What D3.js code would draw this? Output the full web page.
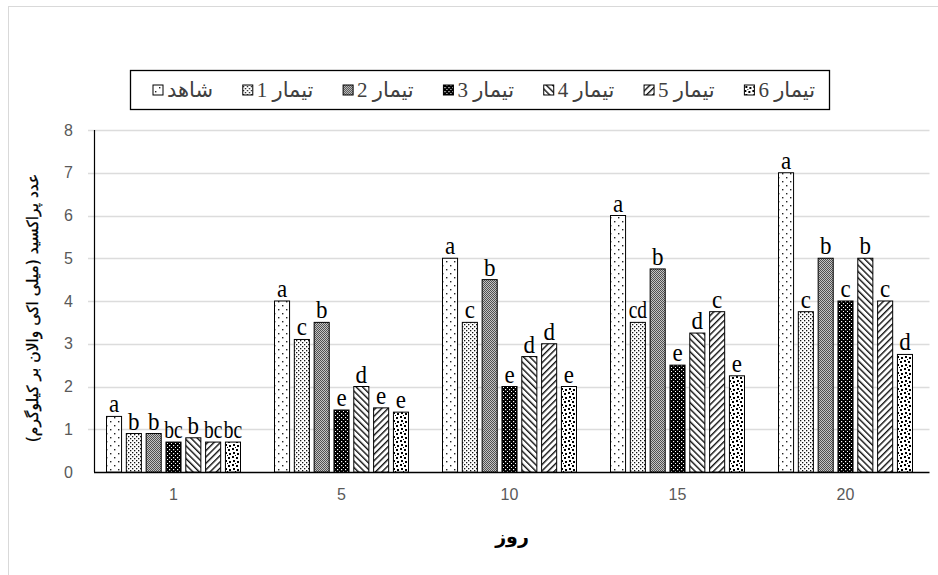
<!DOCTYPE html>
<html>
<head>
<meta charset="utf-8">
<script src="https://cdn.jsdelivr.net/npm/d3@7"></script>
<style>
  html, body { margin: 0; padding: 0; background: #fff; }
  svg { display: block; }
</style>
</head>
<body>
<svg id="chart" width="938" height="575"></svg>
<script>
// Peroxide value over storage days, control and six treatments
const days = ["1", "5", "10", "15", "20"];
const seriesNames = ["شاهد", "تیمار 1", "تیمار 2", "تیمار 3", "تیمار 4", "تیمار 5", "تیمار 6"];
const yTicks = [0, 1, 2, 3, 4, 5, 6, 7, 8];

const control = [1.3, 4.0, 5.0, 6.0, 7.0];
const t1 = [0.9, 3.1, 3.5, 3.5, 3.75];
const t2 = [0.9, 3.5, 4.5, 4.75, 5.0];
const t3 = [0.7, 1.45, 2.0, 2.5, 4.0];
const t4 = [0.8, 2.0, 2.7, 3.25, 5.0];
const t5 = [0.7, 1.5, 3.0, 3.75, 4.0];
const t6 = [0.7, 1.4, 2.0, 2.25, 2.75];

// Duncan grouping letters shown above the bars
const controlLetters = ["a", "a", "a", "a", "a"];
const t1Letters = ["b", "c", "c", "cd", "c"];
const t2Letters = ["b", "b", "b", "b", "b"];
const t3Letters = ["bc", "e", "e", "e", "c"];
const t4Letters = ["b", "d", "d", "d", "b"];
const t5Letters = ["bc", "e", "d", "c", "c"];
const t6Letters = ["bc", "e", "e", "e", "d"];

const yTitle = "عدد پراکسید (میلی اکی والان بر کیلوگرم)";
const xTitle = "روز";

const values = [control, t1, t2, t3, t4, t5, t6];
const letters = [controlLetters, t1Letters, t2Letters, t3Letters, t4Letters, t5Letters, t6Letters];

const svg = d3.select("#chart");

// ---- fill patterns, one per series ----
const defs = svg.append("defs");

// control: sparse dots on white
let p = defs.append("pattern").attr("id", "pat0").attr("patternUnits", "userSpaceOnUse")
  .attr("width", 8).attr("height", 8);
p.append("rect").attr("width", 8).attr("height", 8).attr("fill", "#fff");
p.append("rect").attr("x", 2).attr("y", 1).attr("width", 1.4).attr("height", 1.4).attr("fill", "#222");
p.append("rect").attr("x", 6).attr("y", 5).attr("width", 1.4).attr("height", 1.4).attr("fill", "#222");

// treatment 1: fine light dots
p = defs.append("pattern").attr("id", "pat1").attr("patternUnits", "userSpaceOnUse")
  .attr("width", 4).attr("height", 4);
p.append("rect").attr("width", 4).attr("height", 4).attr("fill", "#fff");
p.append("rect").attr("x", 0).attr("y", 0).attr("width", 1.3).attr("height", 1.3).attr("fill", "#111");
p.append("rect").attr("x", 2).attr("y", 2).attr("width", 1.3).attr("height", 1.3).attr("fill", "#111");

// treatment 2: dense grey stipple
p = defs.append("pattern").attr("id", "pat2").attr("patternUnits", "userSpaceOnUse")
  .attr("width", 2).attr("height", 2);
p.append("rect").attr("width", 2).attr("height", 2).attr("fill", "#c4c4c4");
p.append("rect").attr("x", 0).attr("y", 0).attr("width", 1).attr("height", 1).attr("fill", "#505050");
p.append("rect").attr("x", 1).attr("y", 1).attr("width", 1).attr("height", 1).attr("fill", "#505050");

// treatment 3: black with small white dots
p = defs.append("pattern").attr("id", "pat3").attr("patternUnits", "userSpaceOnUse")
  .attr("width", 4).attr("height", 4);
p.append("rect").attr("width", 4).attr("height", 4).attr("fill", "#000");
p.append("rect").attr("x", 1).attr("y", 1).attr("width", 1.2).attr("height", 1.2).attr("fill", "#fff");
p.append("rect").attr("x", 3).attr("y", 3).attr("width", 1.2).attr("height", 1.2).attr("fill", "#fff");

// treatments 4 and 5: diagonal hatching in opposite directions
[["pat4", -45], ["pat5", 45]].forEach(([id, ang]) => {
  const h = defs.append("pattern").attr("id", id).attr("patternUnits", "userSpaceOnUse")
    .attr("width", 4.5).attr("height", 4.5).attr("patternTransform", `rotate(${ang})`);
  h.append("rect").attr("width", 4.5).attr("height", 4.5).attr("fill", "#fff");
  h.append("rect").attr("x", 0).attr("y", 0).attr("width", 1.4).attr("height", 4.5).attr("fill", "#111");
});

// treatment 6: large confetti blobs
p = defs.append("pattern").attr("id", "pat6").attr("patternUnits", "userSpaceOnUse")
  .attr("width", 8).attr("height", 8);
p.append("rect").attr("width", 8).attr("height", 8).attr("fill", "#fff");
[[0, 0, 2, 2], [4, 1, 2, 2], [1, 4, 2, 2], [5, 5, 2, 2], [3, 7, 1, 1]].forEach(([x, y, w, hh]) => {
  p.append("rect").attr("x", x).attr("y", y).attr("width", w).attr("height", hh).attr("fill", "#000");
});

// ---- outer frame ----
svg.append("rect").attr("x", 8.5).attr("y", 6.5).attr("width", 960).attr("height", 620)
  .attr("fill", "none").attr("stroke", "#d9d9d9").attr("stroke-width", 1);

// ---- scales ----
const x0 = d3.scaleBand().domain(days).range([89.5, 929.5]).paddingInner(0).paddingOuter(0);
const x1 = d3.scaleBand().domain(d3.range(seriesNames.length)).range([17, 151]).paddingInner(0.24).paddingOuter(0);
const y = d3.scaleLinear().domain([0, 8]).range([472, 130]);

// ---- gridlines ----
svg.append("g").selectAll("line").data(yTicks.filter(d => d > 0)).join("line")
  .attr("x1", 88).attr("x2", 929.5)
  .attr("y1", d => Math.round(y(d)) + 0.5).attr("y2", d => Math.round(y(d)) + 0.5)
  .attr("stroke", "#dcdcdc").attr("stroke-width", 1.5);

// ---- y axis ----
const yAxis = svg.append("g").attr("transform", "translate(94,0)")
  .call(d3.axisLeft(y).tickValues(yTicks).tickSize(0).tickPadding(21).tickFormat(d3.format("d")));
yAxis.select(".domain").remove();
yAxis.selectAll("text").attr("fill", "#595959").attr("font-family", "Liberation Sans, Arial, sans-serif")
  .attr("font-size", 16);
svg.append("line").attr("x1", 94.5).attr("x2", 94.5).attr("y1", y(8)).attr("y2", y(0))
  .attr("stroke", "#000").attr("stroke-width", 1.2);

// ---- x axis ----
const xAxis = svg.append("g").attr("transform", `translate(0,${y(0)})`)
  .call(d3.axisBottom(x0).tickSize(0).tickPadding(17));
xAxis.select(".domain").remove();
xAxis.selectAll("text").attr("fill", "#595959").attr("font-family", "Liberation Sans, Arial, sans-serif")
  .attr("font-size", 16);
svg.append("line").attr("x1", 94).attr("x2", 929.5).attr("y1", y(0) + 0.5).attr("y2", y(0) + 0.5)
  .attr("stroke", "#000").attr("stroke-width", 1.3);

// ---- bars and letters ----
const rows = [];
days.forEach((day, di) => {
  values.forEach((vals, si) => {
    rows.push({ day, si, v: vals[di], lab: letters[si][di] });
  });
});

svg.append("g").selectAll("rect").data(rows).join("rect")
  .attr("x", d => x0(d.day) + x1(d.si))
  .attr("y", d => y(d.v))
  .attr("width", x1.bandwidth())
  .attr("height", d => y(0) - y(d.v))
  .attr("fill", d => `url(#pat${d.si})`)
  .attr("stroke", "#000").attr("stroke-width", 1);

svg.append("g").selectAll("text").data(rows).join("text")
  .attr("transform", d => `translate(${x0(d.day) + x1(d.si) + x1.bandwidth() / 2},${y(d.v) - 4}) scale(${d.lab.length > 1 ? 0.78 : 0.92},1)`)
  .attr("text-anchor", "middle")
  .attr("font-family", "Liberation Serif, Times New Roman, serif")
  .attr("font-size", 25)
  .attr("fill", "#000")
  .text(d => d.lab);

// ---- axis titles ----
svg.append("text")
  .attr("transform", "translate(38,308) rotate(-90)")
  .attr("text-anchor", "middle")
  .attr("font-family", "DejaVu Sans, sans-serif")
  .attr("font-size", 15.5)
  .attr("fill", "#000")
  .attr("stroke", "#000").attr("stroke-width", 0.3)
  .text(yTitle);

svg.append("text")
  .attr("x", 512).attr("y", 543)
  .attr("text-anchor", "middle")
  .attr("font-family", "DejaVu Sans, sans-serif")
  .attr("font-size", 19)
  .attr("font-weight", "bold")
  .attr("fill", "#000")
  .text(xTitle);

// ---- legend ----
const legBox = { x: 130.5, y: 70.5, w: 699, h: 39 };
svg.append("rect").attr("x", legBox.x).attr("y", legBox.y).attr("width", legBox.w).attr("height", legBox.h)
  .attr("fill", "#fff").attr("stroke", "#000").attr("stroke-width", 1.3);

const leg = svg.append("g");
const items = leg.selectAll("g").data(seriesNames).join("g");
items.append("rect")
  .attr("width", 10).attr("height", 10).attr("y", -5)
  .attr("fill", (d, i) => `url(#pat${i})`)
  .attr("stroke", "#000").attr("stroke-width", 1);
items.append("text")
  .attr("x", 14).attr("y", 7)
  .attr("font-family", "Liberation Serif, DejaVu Sans, serif")
  .attr("font-size", 21)
  .attr("fill", "#404040")
  .text(d => d);

// spread items evenly between the first swatch and the right padding
const widths = [];
items.each(function () { widths.push(14 + d3.select(this).select("text").node().getComputedTextLength()); });
const startX = 153, endX = 815;
const gap = (endX - startX - d3.sum(widths)) / (widths.length - 1);
let cx = startX;
items.each(function (d, i) {
  d3.select(this).attr("transform", `translate(${cx},90)`);
  cx += widths[i] + gap;
});
</script>
</body>
</html>
